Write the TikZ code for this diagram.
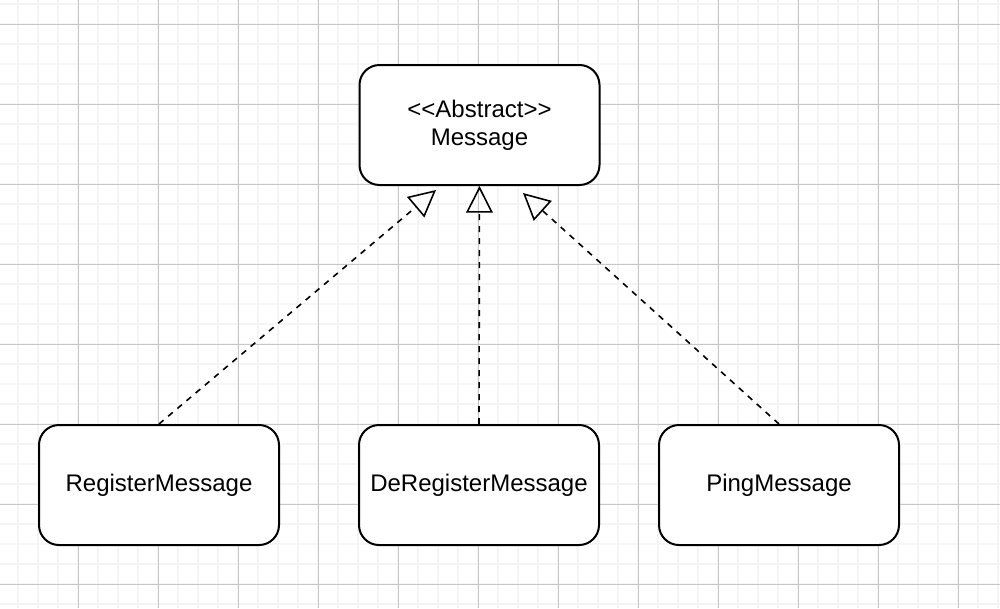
\documentclass[tikz,border=0pt]{standalone}
\usepackage{fontspec}
\setmainfont{Liberation Sans}
\usetikzlibrary{arrows.meta}
\begin{document}
\begin{tikzpicture}[x=0.75pt,y=-0.75pt,
  cls/.style={draw=black, line width=1.5pt, fill=white, rounded corners=15pt,
    minimum width=180pt, minimum height=90pt, inner sep=0pt, align=center,
    font=\fontsize{18}{21}\selectfont},
  realize/.style={line width=1.2pt, dash pattern=on 4.5pt off 4.5pt,
    -{Triangle[open, length=20pt, width=20pt, line width=1.2pt]}},
  minor/.style={draw=black!4, line width=1.5pt},
  major/.style={draw=black!22, line width=0.75pt}]
\useasboundingbox (0,0) rectangle (1000,608);
\fill[white] (0,0) rectangle (1000,608);
% grid
\foreach \x in {18,38,...,998} \draw[minor] (\x,0) -- (\x,608);
\foreach \y in {4,24,...,604} \draw[minor] (0,\y) -- (1000,\y);
\foreach \x in {78,158,...,958} \draw[major] (\x,0) -- (\x,608);
\foreach \y in {24,104,...,584} \draw[major] (0,\y) -- (1000,\y);
% nodes
\node[cls] (msg) at (479.5,125) {<\kern0pt<Abstract>\kern0pt>\\Message};
\node[cls] (reg) at (159,485) {RegisterMessage};
\node[cls] (dereg) at (479,485) {DeRegisterMessage};
\node[cls] (ping) at (779,485) {PingMessage};
\coordinate (tipL) at (436,190);
\coordinate (tipR) at (523,193);
% connectors
\draw[realize] (reg.north) -- (tipL);
\draw[realize] (dereg.north) -- (msg.south);
\draw[realize] (ping.north) -- (tipR);
\end{tikzpicture}
\end{document}
